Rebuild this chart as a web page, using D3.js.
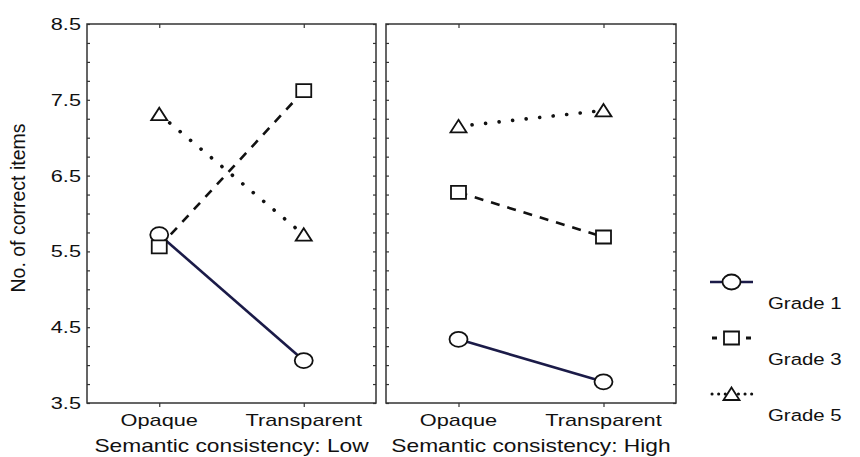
<!DOCTYPE html>
<html>
<head>
<meta charset="utf-8">
<script src="https://cdn.jsdelivr.net/npm/d3@7"></script>
<style>
  body { margin: 0; background: white; }
  svg { display: block; }
</style>
</head>
<body>
<script>
// values
const categories = ["Opaque", "Transparent"]
const panelTitles = ["Semantic consistency: Low", "Semantic consistency: High"]
const grades = ["Grade 1", "Grade 3", "Grade 5"]
const grade1 = [[5.72, 4.06], [4.34, 3.78]]
const grade3 = [[5.56, 7.62], [6.28, 5.69]]
const grade5 = [[7.31, 5.72], [7.15, 7.36]]
const yLabels = [3.5, 4.5, 5.5, 6.5, 7.5, 8.5]
const yTitle = "No. of correct items"

const W = 860, H = 457
const c = {
    frame: "#333333",
    navy:  "#1b1b48",
    black: "#111111",
}
const font = "'Liberation Sans', Arial, sans-serif"

const svg = d3.select("body").append("svg")
    .attr("width", W)
    .attr("height", H)

const y = d3.scaleLinear().domain([3.5, 8.5]).range([403, 24])
const panels = [[87, 376], [386, 676]]
const minor = d3.range(3.5, 8.51, 0.25)

// line styles: solid / dashed / dotted
const series = [
    {name: grades[0], vals: grade1, stroke: c.navy,  w: 2.6, cap: "butt",  dash: null,      legDash: null,      shape: "circle"},
    {name: grades[1], vals: grade3, stroke: c.black, w: 2.6, cap: "butt",  dash: "9,8",     legDash: "5,29",    shape: "square"},
    {name: grades[2], vals: grade5, stroke: c.black, w: 3.6, cap: "round", dash: "0.1,13.5", legDash: "0.1,6.5", shape: "triangle"},
]

function marker(g, shape, cx, cy) {
    const m = g.append(shape == "circle" ? "ellipse" : "path")
        .attr("fill", "white")
        .attr("stroke", c.black)
        .attr("stroke-width", 1.8)
    if (shape == "circle") {
        m.attr("cx", cx).attr("cy", cy).attr("rx", 9).attr("ry", 7.5)
    } else if (shape == "square") {
        m.attr("d", `M${cx-7.5},${cy-6.5}h15v13h-15z`)
    } else {
        m.attr("d", `M${cx},${cy-6.5}L${cx+8},${cy+6}L${cx-8},${cy+6}z`)
    }
}

// text in the picture is stretched sideways
function stretchedText(g, x, yy, txt, anchor, size, sx) {
    return g.append("text")
        .attr("transform", `translate(${x},${yy}) scale(${sx},1)`)
        .attr("text-anchor", anchor)
        .attr("font-family", font)
        .attr("font-size", size)
        .attr("fill", "#111")
        .text(txt)
}

panels.forEach((p, pi) => {
    const x = d3.scalePoint().domain(categories).range(p).padding(0.5)
    const g = svg.append("g")

    // inner ticks on left and right borders
    g.append("g")
        .attr("transform", `translate(${p[0]},0)`)
        .call(d3.axisLeft(y).tickValues(minor).tickSize(-3).tickFormat(""))
    g.append("g")
        .attr("transform", `translate(${p[1]},0)`)
        .call(d3.axisRight(y).tickValues(minor).tickSize(-3).tickFormat(""))
    g.append("g")
        .attr("transform", `translate(0,${y(3.5)})`)
        .call(d3.axisBottom(x).tickSize(4).tickFormat(""))
    g.append("g")
        .attr("transform", `translate(0,${y(8.5)})`)
        .call(d3.axisTop(x).tickSize(-4).tickFormat(""))
    g.selectAll(".domain").remove()
    g.selectAll(".tick line").attr("stroke", c.frame).attr("stroke-width", 1.2)

    g.append("rect")
        .attr("x", p[0]).attr("y", y(8.5))
        .attr("width", p[1] - p[0]).attr("height", y(3.5) - y(8.5))
        .attr("fill", "none")
        .attr("stroke", c.frame)
        .attr("stroke-width", 1.5)

    series.forEach(s => {
        const pts = categories.map((k, i) => [x(k), y(s.vals[pi][i])])
        g.append("path")
            .attr("d", d3.line()(pts))
            .attr("fill", "none")
            .attr("stroke", s.stroke)
            .attr("stroke-width", s.w)
            .attr("stroke-linecap", s.cap)
            .attr("stroke-dasharray", s.dash)
        pts.forEach(pt => marker(g, s.shape, pt[0], pt[1]))
    })

    categories.forEach(k => stretchedText(g, x(k), 426, k, "middle", 17, 1.28))
    stretchedText(g, (p[0] + p[1]) / 2, 452, panelTitles[pi], "middle", 18.5, 1.23)
})

// y tick labels
yLabels.forEach(v => stretchedText(svg, 81, y(v) + 6, v.toFixed(1), "end", 17, 1.28))

// y title
svg.append("text")
    .attr("transform", `translate(25,${208}) rotate(-90)`)
    .attr("text-anchor", "middle")
    .attr("font-family", font)
    .attr("font-size", 19.5)
    .attr("fill", "#111")
    .text(yTitle)

// legend
const leg = d3.scalePoint().domain(grades).range([282, 394])
series.forEach(s => {
    const ly = leg(s.name)
    const g = svg.append("g")
    g.append("line")
        .attr("x1", s.dash ? 712 : 710).attr("x2", s.dash ? 752 : 753)
        .attr("y1", ly).attr("y2", ly)
        .attr("stroke", s.stroke)
        .attr("stroke-width", s.dash ? 3 : 2.6)
        .attr("stroke-linecap", s.cap)
        .attr("stroke-dasharray", s.legDash)
    marker(g, s.shape, 731.5, ly)
    stretchedText(g, 768, ly + 27, s.name, "start", 17, 1.2)
})
</script>
</body>
</html>
